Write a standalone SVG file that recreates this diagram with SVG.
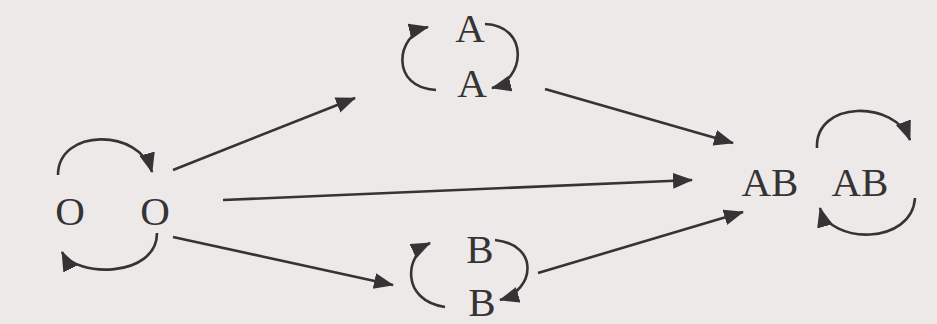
<svg xmlns="http://www.w3.org/2000/svg" width="937" height="324" viewBox="0 0 937 324">
<defs>
<marker id="ah" markerWidth="22" markerHeight="18" refX="19" refY="8" orient="auto" markerUnits="userSpaceOnUse">
<path d="M0,0 L20,8 L0,16 z" fill="#353333"/>
</marker>
<style>
.t{font-family:"Liberation Serif","Times New Roman",serif;font-size:41px;fill:#353333;text-anchor:middle}
.c{fill:none;stroke:#353333;stroke-width:2.6;marker-end:url(#ah)}
</style>
</defs>
<rect width="937" height="324" fill="#ede9e9"/>
<g id="O1"><text class="t" x="70" y="225">O</text></g>
<g id="O2"><text class="t" x="155" y="225">O</text></g>
<g id="A1"><text class="t" x="470" y="42">A</text></g>
<g id="A2"><text class="t" x="472" y="97">A</text></g>
<g id="B1"><text class="t" x="480" y="263">B</text></g>
<g id="B2"><text class="t" x="482" y="316">B</text></g>
<g id="AB1"><text class="t" x="770" y="196">AB</text></g>
<g id="AB2"><text class="t" x="860" y="196">AB</text></g>
<g id="connectors">
<path class="c" d="M58,175 C58,128 140,128 152,172"/>
<path class="c" d="M157,233 C157,278 75,278 62,252"/>
<path class="c" d="M436,90 C390,88 395,35 428,27"/>
<path class="c" d="M485,24 C530,26 525,80 492,88"/>
<path class="c" d="M445,307 C400,300 405,255 430,243"/>
<path class="c" d="M495,240 C540,245 535,290 500,300"/>
<path class="c" d="M817,148 C815,100 895,100 910,140"/>
<path class="c" d="M915,198 C912,245 830,245 820,208"/>
<path class="c" d="M173,170 L355,98"/>
<path class="c" d="M223,200 L692,180"/>
<path class="c" d="M173,237 L393,285"/>
<path class="c" d="M545,89 L733,143"/>
<path class="c" d="M538,273 L743,212"/>
</g>
</svg>
